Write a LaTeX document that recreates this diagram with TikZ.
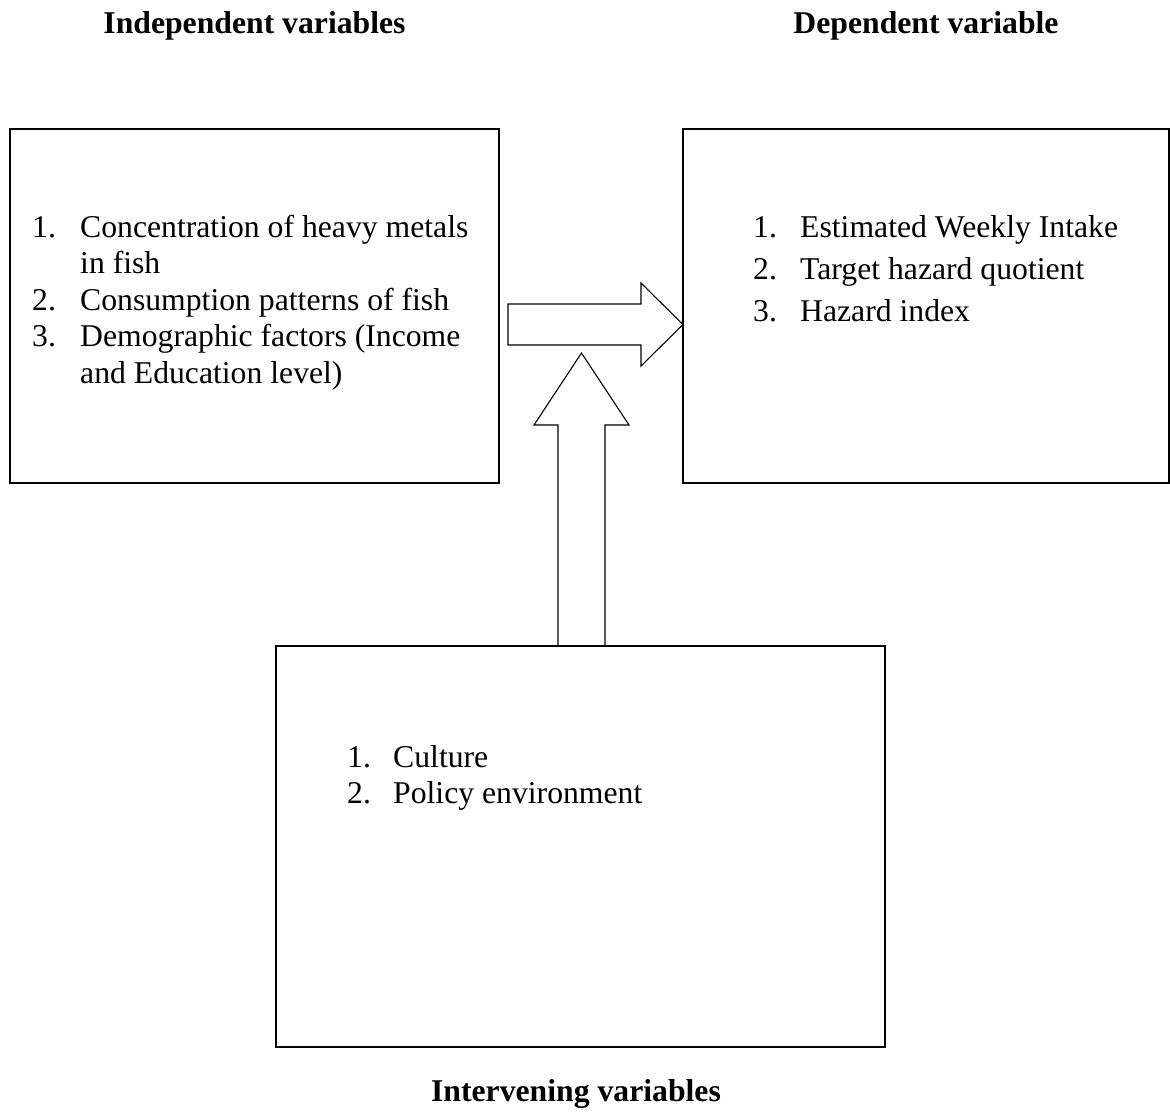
\documentclass[tikz,border=0pt]{standalone}
\usepackage{fontspec}
\setmainfont{Liberation Serif}
\usetikzlibrary{calc}
\begin{document}
\begin{tikzpicture}[x=1pt,y=-1pt,
  box/.style={draw, line width=1.4pt, inner sep=0pt, outer sep=0pt, anchor=north west},
  txt/.style={anchor=base west, inner sep=0pt, font=\fontsize{31.7}{36.5}\selectfont},
  head/.style={anchor=base, inner sep=0pt, font=\fontsize{31.7}{36.5}\selectfont\bfseries},
  blockarrow/.style={draw, line width=1.1pt, line join=miter}]
\useasboundingbox[fill=white] (0,0) rectangle (1170,1114);

% boxes
\node[box, minimum width=489pt, minimum height=354pt] (lbox) at (10,129) {};
\node[box, minimum width=486pt, minimum height=354pt] (rbox) at (683,129) {};
\node[box, minimum width=609pt, minimum height=401pt] (bbox) at (276,646) {};

% headings
\node[head] (hind) at (254.5,33) {Independent variables};
\node[head] (hdep) at (926,33) {Dependent variable};
\node[head] (hint) at (576,1101) {Intervening variables};

% left box text
\node[txt] (l1n) at (32,237.5) {1.};
\node[txt] (l1a) at (80,237.5) {Concentration of heavy metals};
\node[txt] (l1b) at (80,273.8) {in fish};
\node[txt] (l2n) at (32,310.2) {2.};
\node[txt] (l2a) at (80,310.2) {Consumption patterns of fish};
\node[txt] (l3n) at (32,346.6) {3.};
\node[txt] (l3a) at (80,346.6) {Demographic factors (Income};
\node[txt] (l3b) at (80,383) {and Education level)};

% right box text
\node[txt] (r1n) at (753,237) {1.};
\node[txt] (r1a) at (800,237) {Estimated Weekly Intake};
\node[txt] (r2n) at (753,279) {2.};
\node[txt] (r2a) at (800,279) {Target hazard quotient};
\node[txt] (r3n) at (753,321) {3.};
\node[txt] (r3a) at (800,321) {Hazard index};

% bottom box text
\node[txt] (b1n) at (347,767) {1.};
\node[txt] (b1a) at (393,767) {Culture};
\node[txt] (b2n) at (347,803) {2.};
\node[txt] (b2a) at (393,803) {Policy environment};

% horizontal block arrow
\coordinate (htail) at (508,324.5);
\coordinate (htip) at (rbox.west |- htail);
\draw[blockarrow] ($(htail)+(0,-20.5)$) -- ($(htip)+(-42,-20.5)$) -- ($(htip)+(-42,-41.5)$)
  -- (htip) -- ($(htip)+(-42,41.5)$) -- ($(htip)+(-42,20.5)$) -- ($(htail)+(0,20.5)$) -- cycle;

% vertical block arrow
\coordinate (vtail) at ($(bbox.north)+(1,0)$);
\coordinate (vtip) at ($(vtail)+(0,-293)$);
\draw[blockarrow] ($(vtail)+(-23.5,0)$) -- ($(vtip)+(-23.5,72)$) -- ($(vtip)+(-47.5,72)$)
  -- (vtip) -- ($(vtip)+(47.5,72)$) -- ($(vtip)+(23.5,72)$) -- ($(vtail)+(23.5,0)$);
\end{tikzpicture}
\end{document}
